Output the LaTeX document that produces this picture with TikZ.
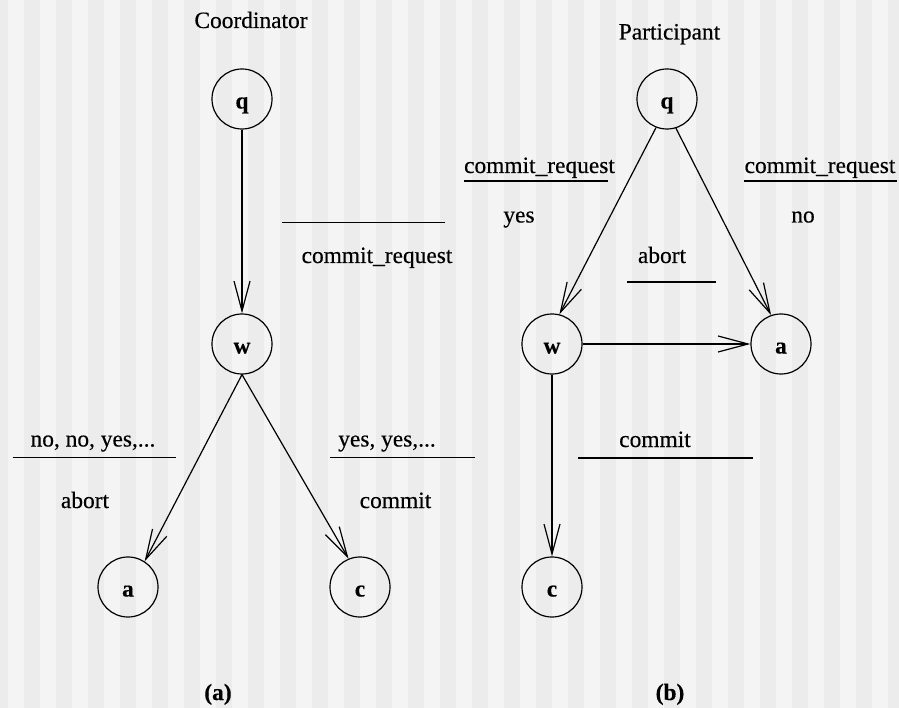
\documentclass[tikz,border=0pt]{standalone}
\usepackage{fontspec}
\setmainfont{Liberation Serif}[FakeBold=0.4]
\usetikzlibrary{arrows.meta}
\definecolor{stripeA}{HTML}{ECECEC}
\definecolor{stripeB}{HTML}{F4F4F4}
\tikzset{
  state/.style={draw, circle, line width=1.2pt, minimum size=60pt, inner sep=0pt,
    font=\fontsize{23.4}{28}\selectfont\bfseries, text height=19pt, text depth=0pt},
  lbl/.style={anchor=base, inner sep=0pt, font=\fontsize{23.4}{28}\selectfont},
  blbl/.style={lbl, font=\fontsize{23.4}{28}\selectfont\bfseries},
  trans/.style={line width=1.2pt, -{Straight Barb[length=30pt,width=16pt,line width=1.2pt]}},
  bar/.style={line width=1.3pt}
}
\begin{document}
\begin{tikzpicture}[x=1pt,y=-1pt]
\useasboundingbox (0,0) rectangle (899,708);
\fill[stripeB] (0,0) rectangle (899,708);
\foreach \i in {0,...,28} {
  \fill[stripeA] ({-8+32*\i},0) rectangle ({8+32*\i},708);
}
% Coordinator
\node[lbl] (tc) at (251,28) {Coordinator};
\node[state] (q1) at (242,99) {q};
\node[state] (w1) at (242,344) {w};
\node[state] (a1) at (128,587) {a};
\node[state] (c1) at (360,587) {c};
\draw[trans] (q1.south) -- (w1.north);
\draw[trans] (w1.south) -- (a1.57);
\draw[trans] (w1.south) -- (c1.112);
\draw[bar] (282,222.7) -- (445,222.7);
\node[lbl] (l1) at (377,263) {commit\_request};
\draw[bar] (12.7,457.3) -- (176,457.3);
\node[lbl] (l2) at (93,446.5) {no, no, yes,...};
\node[lbl] (l3) at (85,508) {abort};
\draw[bar] (330,457.3) -- (475,457.3);
\node[lbl] (l4) at (387,446.5) {yes, yes,...};
\node[lbl] (l5) at (395.5,508) {commit};
\node[blbl] (ta) at (218,700) {(a)};
% Participant
\node[lbl] (tp) at (669.5,39.5) {Participant};
\node[state] (q2) at (667,99) {q};
\node[state] (w2) at (552,344) {w};
\node[state] (a2) at (781,344) {a};
\node[state] (c2) at (552,587) {c};
\draw[trans] (q2.-111) -- (w2.76);
\draw[trans] (q2.-73) -- (a2.109);
\draw[trans] (w2.east) -- (a2.west);
\draw[trans] (w2.south) -- (c2.north);
\node[lbl] (r1) at (539.5,173) {commit\_request};
\draw[bar] (464,181) -- (608,181);
\node[lbl] (r2) at (519,222.5) {yes};
\node[lbl] (r3) at (820,173) {commit\_request};
\draw[bar] (744,181) -- (897,181);
\node[lbl] (r4) at (803,222.5) {no};
\node[lbl] (r5) at (662,263) {abort};
\draw[bar] (627,282) -- (716,282);
\node[lbl] (r6) at (655,447) {commit};
\draw[bar] (578,458) -- (753,458);
\node[blbl] (tb) at (670,700) {(b)};
\end{tikzpicture}
\end{document}
